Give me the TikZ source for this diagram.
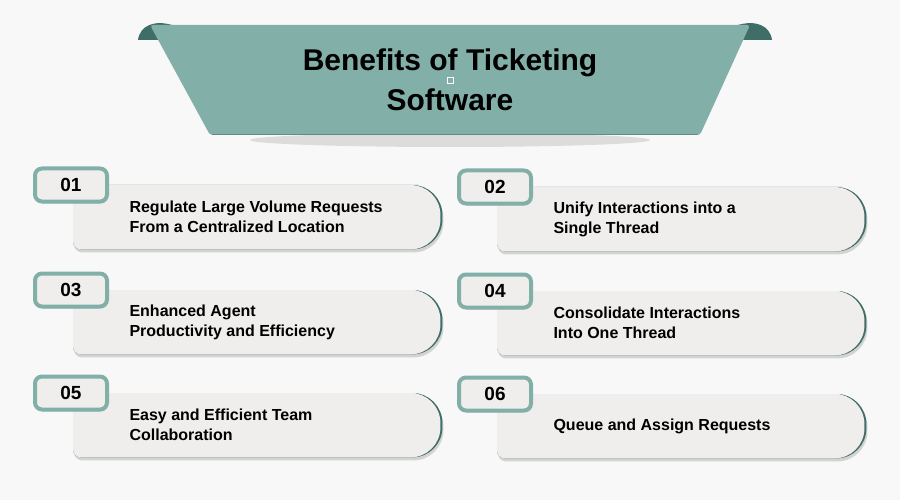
\documentclass[tikz,border=0pt]{standalone}
\usepackage{fontspec}
\setmainfont{Liberation Sans}
\newfontfamily\titlefont{Liberation Sans}
\usetikzlibrary{positioning,shadows,calc}
\definecolor{teal1}{HTML}{82B0A9}
\definecolor{tealdark}{HTML}{3F6E68}
\definecolor{cardgray}{HTML}{EFEEEC}
\definecolor{bggray}{HTML}{F8F8F8}
\tikzset{
  card/.style={minimum width=367pt, minimum height=64pt, inner sep=0pt},
  cardtext/.style={anchor=west, align=left, font=\fontsize{16}{20}\selectfont\bfseries},
  badge/.style={draw=teal1, line width=4pt, fill=cardgray, rounded corners=7pt,
    minimum width=72pt, minimum height=33pt, font=\fontsize{19}{20}\selectfont\bfseries,
    drop shadow={opacity=0.25, shadow xshift=1pt, shadow yshift=-2pt}},
}
\begin{document}
\begin{tikzpicture}[x=1pt,y=-1pt]
\fill[bggray] (0,0) rectangle (900,500);
\useasboundingbox (0,0) rectangle (900,500);
% Banner
\fill[black!30, opacity=0.4] (450,140) ellipse (200pt and 7pt);
\fill[tealdark] (138,40) .. controls (140,25) and (155,20) .. (172,25) -- (182,40) -- cycle;
\fill[tealdark] (772,40) .. controls (770,25) and (755,20) .. (738,25) -- (728,40) -- cycle;
\fill[teal1, rounded corners=3pt] (150,25) -- (750,25) -- (700,135) -- (210,135) -- cycle;
\draw[tealdark!80, line width=1pt] (212,135) -- (698,135);
\node (title) [align=center, font=\titlefont\fontsize{30}{40}\selectfont\bfseries,
  text=black, draw=white, line width=0.3pt] at (450,80) {};
\node (titletext) [align=center, font=\titlefont\fontsize{30}{40}\selectfont\bfseries,
  text=black] at (450,80) {Benefits of Ticketing\\Software};
% Cards
\foreach \cx/\cy/\num/\txt [count=\i] in {
  73/185/01/{Regulate Large Volume Requests\\From a Centralized Location},
  497/187/02/{Unify Interactions into a\\Single Thread},
  73/290/03/{Enhanced Agent\\Productivity and Efficiency},
  497/291/04/{Consolidate Interactions\\Into One Thread},
  73/393/05/{Easy and Efficient Team\\Collaboration},
  497/394/06/{Queue and Assign Requests}}{
  \node (card\i) [card, anchor=north west] at (\cx,\cy) {};
  \fill[tealdark, drop shadow={opacity=0.3, shadow xshift=1pt, shadow yshift=-3pt}]
    (card\i.north west) [rounded corners=8pt] -- ($(card\i.north east)+(-30,0)$)
    [rounded corners=30pt] -- ($(card\i.north east)+(2,0)$) -- ($(card\i.south east)+(2,0)$)
    [rounded corners=8pt] -- (card\i.south west) -- cycle;
  \fill[cardgray]
    (card\i.north west) [rounded corners=8pt] -- ($(card\i.north east)+(-30,0)$)
    [rounded corners=30pt] -- (card\i.north east) -- (card\i.south east)
    [rounded corners=8pt] -- (card\i.south west) -- cycle;
  \node (text\i) [cardtext] at ($(card\i.west)+(53,0)$) {\txt};
  \node (badge\i) [badge] at ($(card\i.north west)+(-2,0)$) {\num};
}
\end{tikzpicture}
\end{document}
